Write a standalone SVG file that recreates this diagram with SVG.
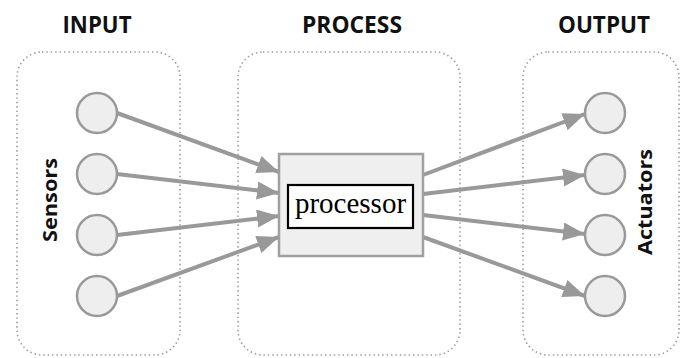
<svg xmlns="http://www.w3.org/2000/svg" width="682" height="358" viewBox="0 0 682 358">
<style>
.panel{fill:none;stroke:#9a9a9a;stroke-width:1.6;stroke-dasharray:1.4 3;}
.title{font-family:"Open Sans","DejaVu Sans",sans-serif;font-weight:700;font-size:24px;fill:#111;text-anchor:middle;}
.side{font-family:"Open Sans","DejaVu Sans",sans-serif;font-weight:700;font-size:20px;fill:#111;text-anchor:middle;}
.node{fill:#eeeeee;stroke:#999;stroke-width:2.5;}
.conn{stroke:#999;stroke-width:4;fill:none;marker-end:url(#ah);}
</style>
<defs>
<marker id="ah" markerUnits="userSpaceOnUse" markerWidth="24" markerHeight="20" refX="22" refY="9" orient="auto">
<path d="M0,0 L22,9 L0,18 z" fill="#999"/>
</marker>
</defs>
<rect width="682" height="358" fill="#fff"/>
<g id="input-panel">
<rect class="panel" x="17" y="52" width="163" height="303" rx="25"/>
<text class="title" x="97" y="33" textLength="69" lengthAdjust="spacingAndGlyphs">INPUT</text>
<text class="side" transform="translate(57,200) rotate(-90)" x="0" y="0" textLength="84" lengthAdjust="spacingAndGlyphs">Sensors</text>
</g>
<g id="process-panel">
<rect class="panel" x="238" y="52" width="222" height="303" rx="25"/>
<text class="title" x="352" y="33" textLength="100" lengthAdjust="spacingAndGlyphs">PROCESS</text>
</g>
<g id="output-panel">
<rect class="panel" x="523" y="52" width="156" height="303" rx="25"/>
<text class="title" x="604" y="33" textLength="92" lengthAdjust="spacingAndGlyphs">OUTPUT</text>
<text class="side" transform="translate(652,202) rotate(-90)" x="0" y="0" textLength="106" lengthAdjust="spacingAndGlyphs">Actuators</text>
</g>
<g id="connectors">
<line class="conn" x1="117" y1="113" x2="279" y2="172"/>
<line class="conn" x1="117" y1="174" x2="279" y2="193"/>
<line class="conn" x1="117" y1="235" x2="279" y2="216"/>
<line class="conn" x1="117" y1="296" x2="279" y2="237"/>
<line class="conn" x1="423" y1="175" x2="585" y2="114"/>
<line class="conn" x1="423" y1="194" x2="585" y2="175"/>
<line class="conn" x1="423" y1="215" x2="585" y2="234"/>
<line class="conn" x1="423" y1="237" x2="585" y2="296"/>
</g>
<g id="sensor1"><circle class="node" cx="97" cy="113" r="20"/></g>
<g id="sensor2"><circle class="node" cx="97" cy="174" r="20"/></g>
<g id="sensor3"><circle class="node" cx="97" cy="235" r="20"/></g>
<g id="sensor4"><circle class="node" cx="97" cy="296" r="20"/></g>
<g id="processor">
<rect x="279" y="154" width="144" height="102" fill="#efefef" stroke="#a0a0a0" stroke-width="2.5"/>
<rect x="288" y="185" width="125" height="43" fill="#fff" stroke="#000" stroke-width="2.2"/>
<text x="350.5" y="213" font-family="Liberation Serif,Times New Roman,serif" font-size="29" text-anchor="middle" fill="#000">processor</text>
</g>
<g id="actuator1"><circle class="node" cx="605" cy="113" r="20"/></g>
<g id="actuator2"><circle class="node" cx="605" cy="174" r="20"/></g>
<g id="actuator3"><circle class="node" cx="605" cy="235" r="20"/></g>
<g id="actuator4"><circle class="node" cx="605" cy="296" r="20"/></g>
</svg>
